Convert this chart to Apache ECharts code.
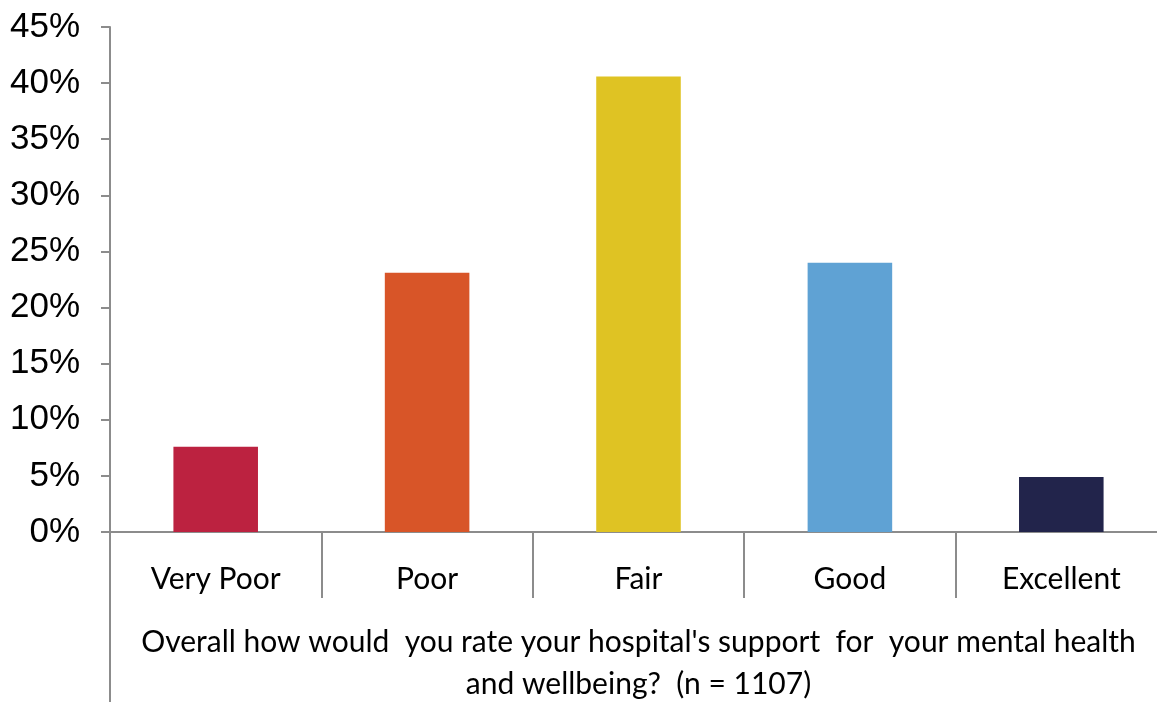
<!DOCTYPE html>
<html>
<head>
<meta charset="utf-8">
<script src="https://cdn.jsdelivr.net/npm/echarts@6/dist/echarts.min.js"></script>
<style>
html,body{margin:0;padding:0;background:#fff;width:100%;height:100%;overflow:hidden;}
#chart{width:1157px;height:702px;}
</style>
</head>
<body>
<div id="chart"></div>
<script>
const categories = ['Very Poor', 'Poor', 'Fair', 'Good', 'Excellent'];
const values = [7.6, 23.1, 40.6, 24.0, 4.9];
const barColors = ['#BC2240', '#D85528', '#DFC323', '#5FA2D4', '#22244B'];
const axisTitle = "Overall how would  you rate your hospital's support  for  your mental health\nand wellbeing?  (n = 1107)";

const chart = echarts.init(document.getElementById('chart'), null, {renderer: 'canvas'});
const axisColor = '#8C8C8C';
chart.setOption({
  animation: false,
  backgroundColor: '#fff',
  grid: {left: 110, right: -10, top: 27, bottom: 170, containLabel: false, outerBoundsMode: 'none'},
  xAxis: {
    type: 'category',
    data: categories,
    axisLine: {lineStyle: {color: axisColor, width: 2}},
    axisTick: {show: true, interval: 0, alignWithLabel: false, length: 66, lineStyle: {color: axisColor, width: 2}},
    axisLabel: {interval: 0, margin: 32, color: '#000', fontFamily: 'Lato', fontSize: 30},
    name: axisTitle,
    nameLocation: 'middle',
    nameGap: 89,
    nameTextStyle: {color: '#000', fontFamily: 'Lato', fontSize: 30, lineHeight: 42, align: 'center', verticalAlign: 'top'}
  },
  yAxis: {
    type: 'value',
    min: 0, max: 45, interval: 5,
    splitLine: {show: false},
    axisLine: {show: true, lineStyle: {color: axisColor, width: 2}},
    axisTick: {show: true, length: 9, lineStyle: {color: axisColor, width: 2}},
    axisLabel: {formatter: '{value}%', margin: 30, color: '#000', fontFamily: 'Liberation Sans', fontSize: 35}
  },
  graphic: [{
    type: 'line',
    shape: {x1: 110, y1: 532, x2: 110, y2: 702},
    style: {stroke: axisColor, lineWidth: 2}
  }],
  series: [{
    type: 'bar',
    barWidth: '40%',
    data: values.map((v, i) => ({value: v, itemStyle: {color: barColors[i]}}))
  }]
});
</script>
</body>
</html>
